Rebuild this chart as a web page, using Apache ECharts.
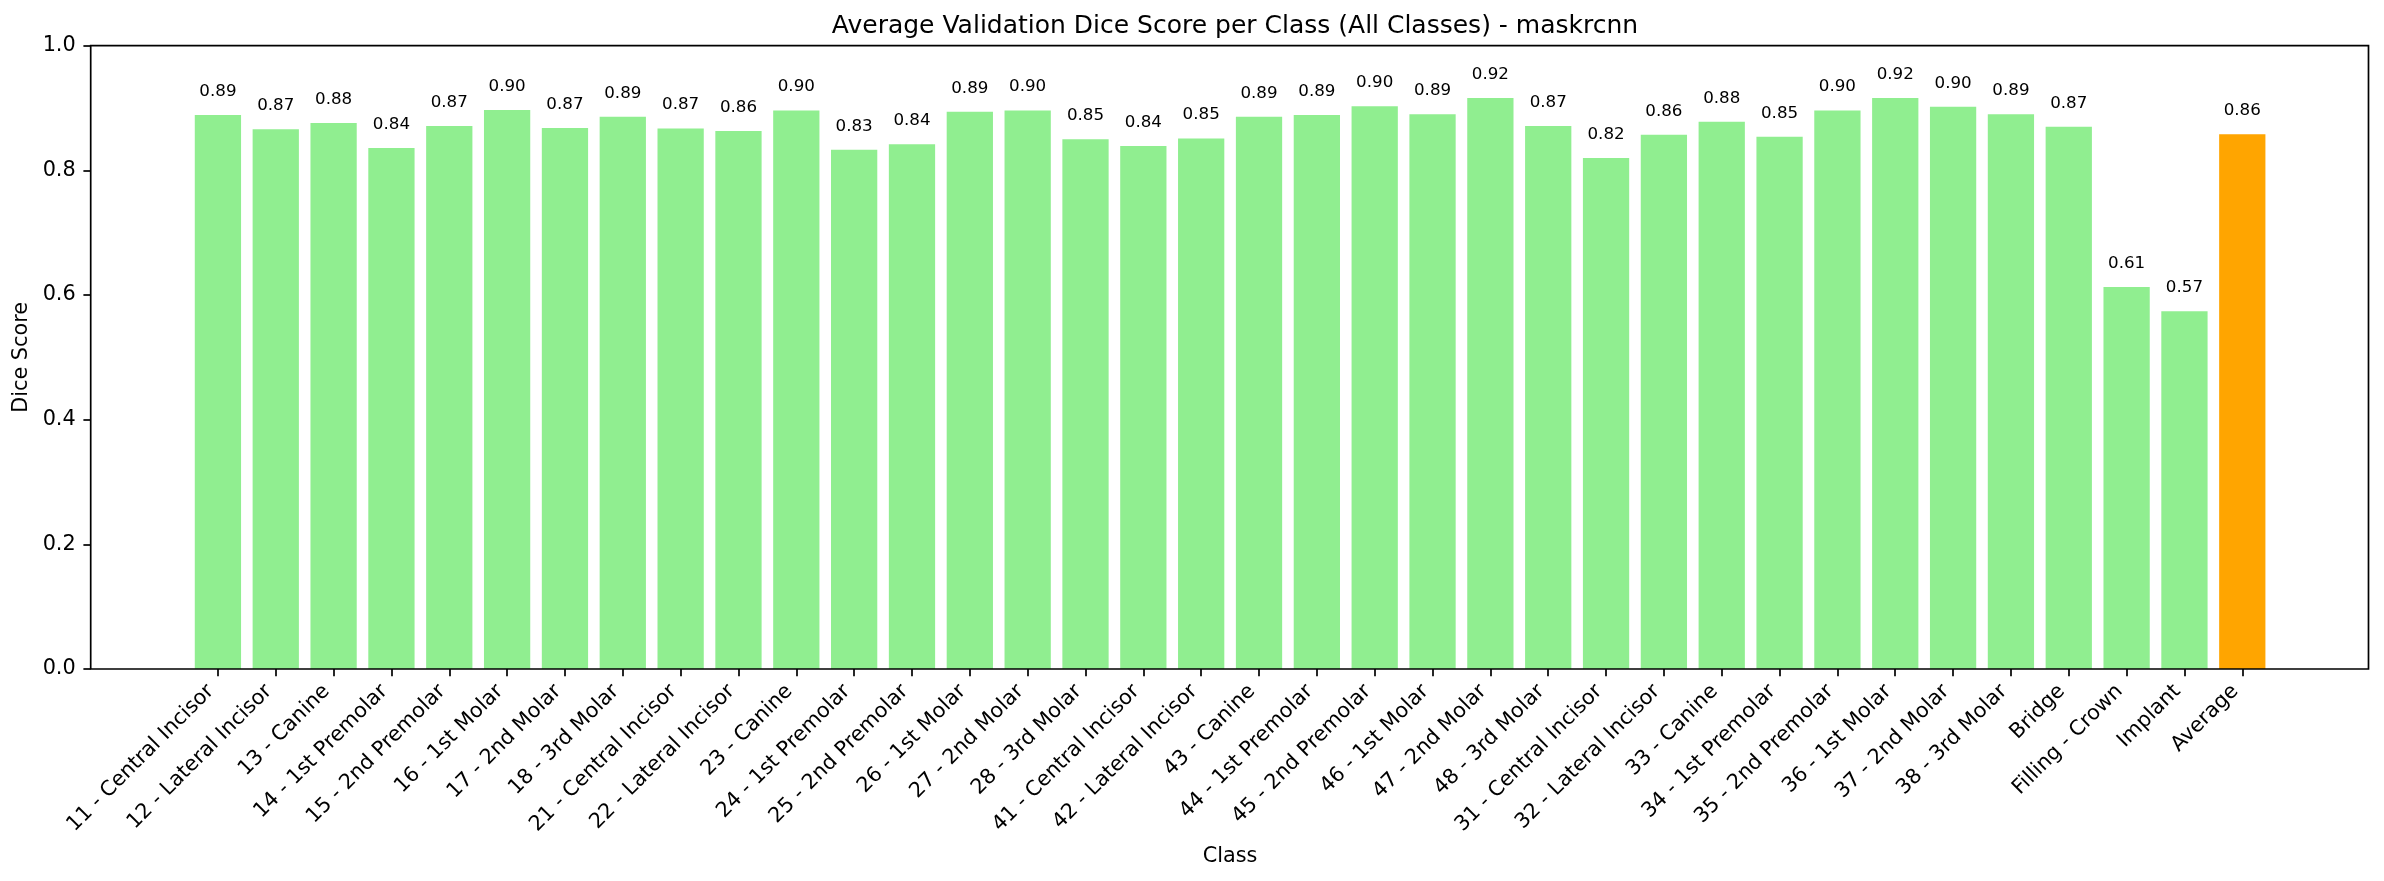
<!DOCTYPE html>
<html>
<head>
<meta charset="utf-8">
<script src="https://cdn.jsdelivr.net/npm/echarts@6/dist/echarts.min.js"></script>
<style>
html, body { margin: 0; padding: 0; background: #fff; }
#chart { width: 2384px; height: 881px; }
</style>
</head>
<body>
<div id="chart"></div>
<script>
var classNames = ['11 - Central Incisor', '12 - Lateral Incisor', '13 - Canine', '14 - 1st Premolar', '15 - 2nd Premolar',
    '16 - 1st Molar', '17 - 2nd Molar', '18 - 3rd Molar', '21 - Central Incisor', '22 - Lateral Incisor', '23 - Canine',
    '24 - 1st Premolar', '25 - 2nd Premolar', '26 - 1st Molar', '27 - 2nd Molar', '28 - 3rd Molar', '41 - Central Incisor',
    '42 - Lateral Incisor', '43 - Canine', '44 - 1st Premolar', '45 - 2nd Premolar', '46 - 1st Molar', '47 - 2nd Molar',
    '48 - 3rd Molar', '31 - Central Incisor', '32 - Lateral Incisor', '33 - Canine', '34 - 1st Premolar', '35 - 2nd Premolar',
    '36 - 1st Molar', '37 - 2nd Molar', '38 - 3rd Molar', 'Bridge', 'Filling - Crown', 'Implant', 'Average'];
var diceScores = [0.889, 0.866, 0.876, 0.836, 0.871, 0.897, 0.868, 0.886, 0.867, 0.863, 0.896, 0.833, 0.842, 0.894,
    0.896, 0.850, 0.839, 0.851, 0.886, 0.889, 0.903, 0.890, 0.916, 0.871, 0.820, 0.857, 0.878, 0.854, 0.896, 0.916,
    0.902, 0.890, 0.870, 0.613, 0.574, 0.858];
var yTicks = [0, 0.2, 0.4, 0.6, 0.8, 1.0];

var barColor = '#90ee90';
var avgColor = '#ffa500';
var font = 'DejaVu Sans';

var chart = echarts.init(document.getElementById('chart'));

var option = {
    animation: false,
    backgroundColor: '#fff',
    title: {
        text: 'Average Validation Dice Score per Class (All Classes) - maskrcnn',
        left: 1230,
        top: 9,
        textAlign: 'center',
        textStyle: { fontFamily: font, fontSize: 25, fontWeight: 'normal', color: '#000' }
    },
    grid: [
        // bars
        { left: 189, right: 112.8, top: 45.7, bottom: 212, containLabel: false },
        // frame (matplotlib axes box)
        { left: 90.7, right: 15.5, top: 45.7, bottom: 212, show: true, z: 5,
          borderColor: '#000', borderWidth: 1.7, backgroundColor: 'transparent' }
    ],
    xAxis: [
        {
            type: 'category',
            gridIndex: 0,
            data: classNames,
            name: 'Class',
            nameLocation: 'middle',
            nameGap: 177,
            nameTextStyle: { fontFamily: font, fontSize: 20.8, color: '#000' },
            axisLine: { show: false },
            axisTick: { show: true, alignWithLabel: true, length: 7.3, lineStyle: { color: '#000', width: 1.7 } },
            axisLabel: {
                interval: 0,
                rotate: 45,
                margin: 12,
                padding: [0, 10, 0, 0],
                fontFamily: font,
                fontSize: 20.8,
                color: '#000'
            },
            splitLine: { show: false }
        },
        { type: 'value', gridIndex: 1, show: false, min: 0, max: 1 }
    ],
    yAxis: [
        {
            type: 'value',
            gridIndex: 0,
            min: 0,
            max: 1,
            interval: 0.2,
            offset: 98.3,
            name: 'Dice Score',
            nameLocation: 'middle',
            nameGap: 57,
            nameRotate: 90,
            nameTextStyle: { fontFamily: font, fontSize: 20.8, color: '#000' },
            axisLine: { show: false },
            axisTick: { show: true, length: 7.3, lineStyle: { color: '#000', width: 1.7 } },
            axisLabel: {
                margin: 15,
                fontFamily: font,
                fontSize: 20.8,
                color: '#000',
                customValues: yTicks,
                formatter: function (v) { return v.toFixed(1); }
            },
            splitLine: { show: false }
        },
        { type: 'value', gridIndex: 1, show: false, min: 0, max: 1 }
    ],
    series: [
        {
            type: 'bar',
            xAxisIndex: 0,
            yAxisIndex: 0,
            barWidth: '80%',
            data: diceScores,
            itemStyle: {
                color: function (p) {
                    return p.dataIndex === diceScores.length - 1 ? avgColor : barColor;
                }
            },
            label: {
                show: true,
                position: 'top',
                distance: 15,
                fontFamily: font,
                fontSize: 16.7,
                color: '#000',
                formatter: function (p) { return p.value.toFixed(2); }
            }
        }
    ]
};

chart.setOption(option);
</script>
</body>
</html>
